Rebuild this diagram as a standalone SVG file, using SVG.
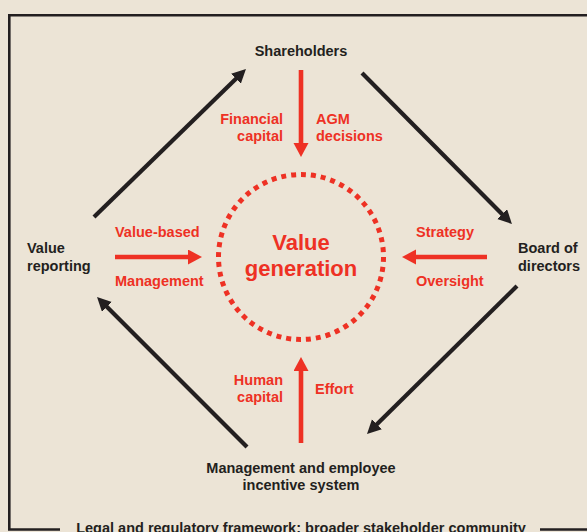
<svg xmlns="http://www.w3.org/2000/svg" width="587" height="532" viewBox="0 0 587 532">
<style>
  .bg { fill: #ece4d6; }
  .frame { fill: none; stroke: #231f20; stroke-width: 2.6; }
  .lbl { font-family: "Liberation Sans", Arial, sans-serif; font-weight: bold; font-size: 14.5px; fill: #231f20; }
  .red { font-family: "Liberation Sans", Arial, sans-serif; font-weight: bold; font-size: 14.5px; fill: #ee3124; }
  .big { font-family: "Liberation Sans", Arial, sans-serif; font-weight: bold; font-size: 22px; fill: #ee3124; }
  .blk { stroke: #231f20; stroke-width: 4.2; fill: none; marker-end: url(#hb); }
  .rda { stroke: #ee3124; stroke-width: 4.6; fill: none; marker-end: url(#hr); }
  .ring { fill: none; stroke: #ee3124; stroke-width: 5; stroke-dasharray: 5 5; }
</style>
<defs>
  <marker id="hb" markerUnits="userSpaceOnUse" markerWidth="16" markerHeight="16" refX="4" refY="7" orient="auto" viewBox="0 0 16 16">
    <path d="M0,0 L14,7 L0,14 z" fill="#231f20"/>
  </marker>
  <marker id="hr" markerUnits="userSpaceOnUse" markerWidth="16" markerHeight="16" refX="4" refY="7.5" orient="auto" viewBox="0 0 16 16">
    <path d="M0,0 L14,7.5 L0,15 z" fill="#ee3124"/>
  </marker>
</defs>
<rect class="bg" x="0" y="0" width="587" height="532"/>
<g id="frame">
  <path class="frame" d="M587,15.3 H9.3 V529.5 H60"/>
  <path class="frame" d="M540,529.5 H587"/>
  <text class="lbl" x="301" y="533" text-anchor="middle">Legal and regulatory framework: broader stakeholder community</text>
</g>
<g id="connectors">
  <line class="blk" x1="94" y1="217" x2="238.8" y2="76"/>
  <line class="blk" x1="362" y1="73" x2="504.9" y2="216.9"/>
  <line class="blk" x1="517" y1="286" x2="374.1" y2="427"/>
  <line class="blk" x1="247" y1="447" x2="104.1" y2="304.1"/>
  <line class="rda" x1="301" y1="70" x2="301" y2="147"/>
  <line class="rda" x1="301" y1="443" x2="301" y2="367"/>
  <line class="rda" x1="115" y1="257" x2="192" y2="257"/>
  <line class="rda" x1="487" y1="257" x2="412" y2="257"/>
</g>
<g id="shareholders">
  <text class="lbl" x="301" y="56" text-anchor="middle">Shareholders</text>
</g>
<g id="board">
  <text class="lbl" x="518" y="253">Board of</text>
  <text class="lbl" x="518" y="271">directors</text>
</g>
<g id="management">
  <text class="lbl" x="301" y="473" text-anchor="middle">Management and employee</text>
  <text class="lbl" x="301" y="490" text-anchor="middle">incentive system</text>
</g>
<g id="reporting">
  <text class="lbl" x="27" y="253">Value</text>
  <text class="lbl" x="27" y="271">reporting</text>
</g>
<g id="value-generation">
  <circle class="ring" cx="301" cy="257" r="82.5" pathLength="520"/>
  <text class="big" x="301" y="250" text-anchor="middle">Value</text>
  <text class="big" x="301" y="276" text-anchor="middle">generation</text>
</g>
<g id="labels">
  <text class="red" x="283" y="124" text-anchor="end">Financial</text>
  <text class="red" x="283" y="141" text-anchor="end">capital</text>
  <text class="red" x="316" y="124">AGM</text>
  <text class="red" x="316" y="141">decisions</text>
  <text class="red" x="115" y="237">Value-based</text>
  <text class="red" x="115" y="286">Management</text>
  <text class="red" x="416" y="237">Strategy</text>
  <text class="red" x="416" y="286">Oversight</text>
  <text class="red" x="283" y="385" text-anchor="end">Human</text>
  <text class="red" x="283" y="402" text-anchor="end">capital</text>
  <text class="red" x="315" y="394">Effort</text>
</g>
</svg>
